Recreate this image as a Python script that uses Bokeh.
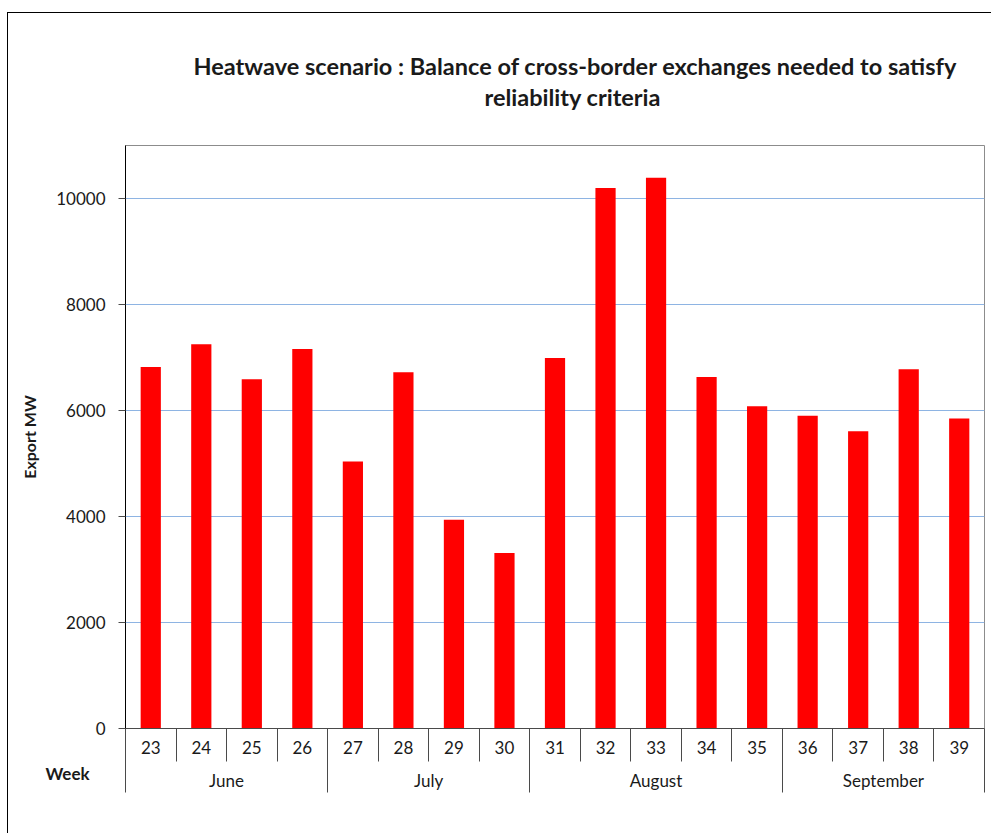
from bokeh.plotting import figure
from bokeh.models import (Range1d, LinearAxis, FixedTicker, Title,
                          ColumnDataSource)
from bokeh.embed import file_html
from bokeh.resources import INLINE

# ---- data ----
weeks = ["23", "24", "25", "26", "27", "28", "29", "30", "31",
         "32", "33", "34", "35", "36", "37", "38", "39"]
export_mw = [6820, 7250, 6590, 7160, 5040, 6720, 3940, 3310, 6990,
             10200, 10390, 6630, 6080, 5900, 5610, 6780, 5850]
months = ["June", "July", "August", "September"]
weeks_per_month = [4, 4, 5, 4]
y_ticks = [0, 2000, 4000, 6000, 8000, 10000]

FONT = "Lato"
AXIS_COL = "#4a4a4a"
TEXT_COL = "#1a1a1a"

n = len(weeks)
centers = [i + 0.5 for i in range(n)]   # category slots on the axis
bounds = list(range(n + 1))

p = figure(width=984, height=821,
           x_range=Range1d(0, n),
           y_range=Range1d(0, 11000),
           x_axis_type=None,
           output_backend="svg", toolbar_location=None,
           min_border_left=117, min_border_right=8,
           min_border_top=132, min_border_bottom=106,
           margin=(12, 0, 0, 7),
           styles={"border-left": "1px solid #000000",
                   "border-top": "1px solid #000000"})

src = ColumnDataSource(dict(x=centers, week=weeks, value=export_mw))
p.vbar(x="x", top="value", width=0.4, source=src,
       fill_color="#FF0000", line_color=None)

# ---- y axis ----
p.yaxis.ticker = FixedTicker(ticks=y_ticks, minor_ticks=[])
p.yaxis.axis_label = "Export MW"
p.yaxis.axis_label_text_font = FONT
p.yaxis.axis_label_text_font_style = "bold"
p.yaxis.axis_label_text_font_size = "16px"
p.yaxis.axis_label_text_color = TEXT_COL
p.yaxis.axis_label_standoff = 14
p.yaxis.major_label_text_font = FONT
p.yaxis.major_label_text_font_size = "17px"
p.yaxis.major_label_text_color = TEXT_COL
p.yaxis.major_label_standoff = 13
p.yaxis.major_tick_out = 7
p.yaxis.major_tick_in = 0
p.yaxis.minor_tick_line_color = None
p.yaxis.axis_line_color = "#000000"
p.yaxis.major_tick_line_color = AXIS_COL

p.ygrid.ticker = FixedTicker(ticks=y_ticks, minor_ticks=[])
p.ygrid.grid_line_color = "#8EB4E3"
p.outline_line_color = "#8c8c8c"

# ---- two-level category axis (weeks / months) ----
wk_axis = LinearAxis(ticker=FixedTicker(ticks=centers, minor_ticks=bounds),
                     major_label_overrides={c: w for c, w in zip(centers, weeks)})
wk_axis.axis_line_color = AXIS_COL
wk_axis.major_tick_line_color = None
wk_axis.major_tick_out = 0
wk_axis.major_tick_in = 0
wk_axis.minor_tick_line_color = AXIS_COL
wk_axis.minor_tick_out = 33
wk_axis.minor_tick_in = 0
wk_axis.major_label_standoff = -21
wk_axis.major_label_text_font = FONT
wk_axis.major_label_text_font_size = "17px"
wk_axis.major_label_text_color = TEXT_COL
p.add_layout(wk_axis, "below")

# "Week" caption at the left of the month row
week_title = Title(text="Week", align="left", offset=-80, vertical_align="middle",
                   text_font=FONT, text_font_style="bold", text_font_size="17px",
                   text_color=TEXT_COL, standoff=10)
p.add_layout(week_title, "below")

m_bounds = [0]
for c in weeks_per_month:
    m_bounds.append(m_bounds[-1] + c)
m_centers = [(a + b) / 2 for a, b in zip(m_bounds[:-1], m_bounds[1:])]
mo_axis = LinearAxis(ticker=FixedTicker(ticks=m_centers, minor_ticks=m_bounds),
                     major_label_overrides={c: m for c, m in zip(m_centers, months)})
mo_axis.axis_line_color = None
mo_axis.major_tick_line_color = None
mo_axis.major_tick_out = 0
mo_axis.major_tick_in = 0
mo_axis.minor_tick_line_color = AXIS_COL
mo_axis.minor_tick_out = 3
mo_axis.minor_tick_in = 33
mo_axis.major_label_standoff = -23
mo_axis.major_label_text_font = FONT
mo_axis.major_label_text_font_size = "17px"
mo_axis.major_label_text_color = TEXT_COL
p.add_layout(mo_axis, "below")

# ---- title (two lines) ----
spacer = Title(text=" ", text_font_size="20px", standoff=10)
t2 = Title(text="reliability criteria", align="left", offset=359,
           text_font=FONT, text_font_style="bold", text_font_size="23.5px",
           text_color=TEXT_COL, standoff=1)
t1 = Title(text="Heatwave scenario : Balance of  cross-border exchanges needed to satisfy",
           align="left", offset=68,
           text_font=FONT, text_font_style="bold", text_font_size="23.5px",
           text_color=TEXT_COL, standoff=1)
p.add_layout(spacer, "above")
p.add_layout(t2, "above")
p.add_layout(t1, "above")

open("out.html", "w").write(file_html(p, INLINE))
